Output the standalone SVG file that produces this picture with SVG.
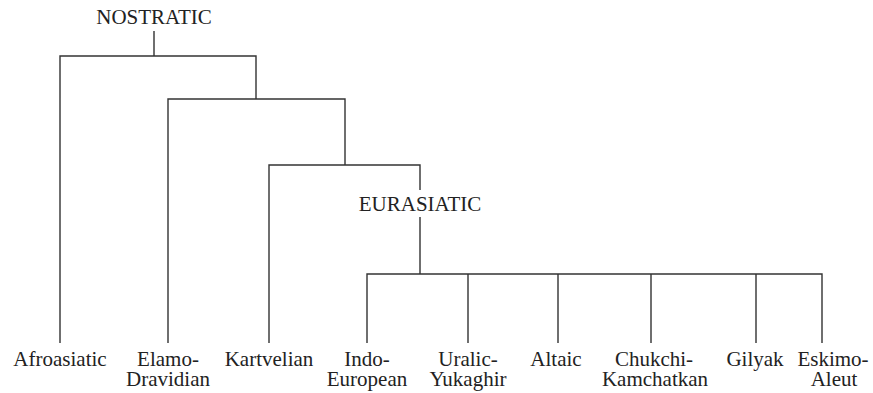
<svg xmlns="http://www.w3.org/2000/svg" width="873" height="393" viewBox="0 0 873 393">
<style>
.c path{fill:none;stroke:#333;stroke-width:1.4}
.t{font-family:"Liberation Serif","DejaVu Serif",serif;font-size:21px;fill:#222;text-anchor:middle}
</style>
<rect width="873" height="393" fill="#fff"/>
<g class="c" id="connectors">
<path d="M154,31V56M60,343V56H256V99M168,343V99H345V165M269,343V165H420V190"/>
<path d="M420,217V274M367,343V274H822V343M468,274V343M558,274V343M651,274V343M756,274V343"/>
</g>
<g class="t">
<g id="nostratic"><text x="154" y="24">NOSTRATIC</text></g>
<g id="eurasiatic"><text x="420" y="211">EURASIATIC</text></g>
<g id="afroasiatic"><text x="60" y="366">Afroasiatic</text></g>
<g id="elamo-dravidian"><text x="168" y="366">Elamo-</text><text x="168" y="386">Dravidian</text></g>
<g id="kartvelian"><text x="269" y="366">Kartvelian</text></g>
<g id="indo-european"><text x="367" y="366">Indo-</text><text x="367" y="386">European</text></g>
<g id="uralic-yukaghir"><text x="468" y="366">Uralic-</text><text x="468" y="386">Yukaghir</text></g>
<g id="altaic"><text x="556" y="366">Altaic</text></g>
<g id="chukchi-kamchatkan"><text x="654" y="366">Chukchi-</text><text x="655" y="386">Kamchatkan</text></g>
<g id="gilyak"><text x="755" y="366">Gilyak</text></g>
<g id="eskimo-aleut"><text x="833" y="366">Eskimo-</text><text x="834" y="386">Aleut</text></g>
</g>
</svg>
